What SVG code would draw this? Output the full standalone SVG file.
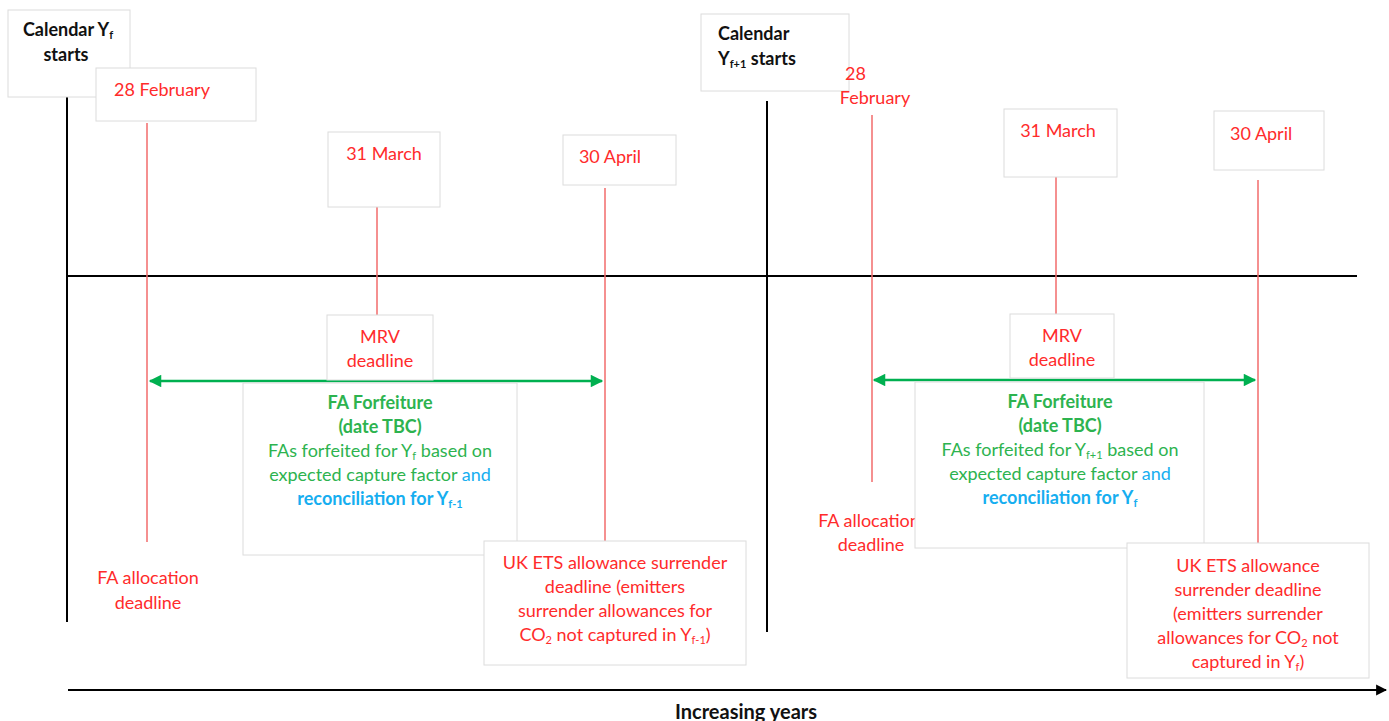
<svg xmlns="http://www.w3.org/2000/svg" width="1389" height="721" viewBox="0 0 1389 721">
<defs>
<style>
text{font-family:Lato,"Liberation Sans",sans-serif;font-size:18px}
.box{fill:#fff;stroke:#dcdcdc;stroke-width:1}
.red{fill:#ff2b2b}
.blk{fill:#111}
.grn{fill:#2db34f}
.blu{fill:#16aef0}
.b{font-weight:bold}
.m{text-anchor:middle}
.rl{stroke:#f26b6b;stroke-width:1.5}
.kl{stroke:#000;stroke-width:2}
.gl{stroke:#00b050;stroke-width:2.5}
.sub{font-size:11px}
</style>
<marker id="ga" viewBox="0 0 10 10" refX="9" refY="5" markerWidth="6" markerHeight="5" orient="auto-start-reverse" markerUnits="strokeWidth"><path d="M0,0 L10,5 L0,10 z" fill="#00b050"/></marker>
<marker id="ka" viewBox="0 0 10 10" refX="9" refY="5" markerWidth="5.5" markerHeight="6" orient="auto" markerUnits="strokeWidth"><path d="M0,0 L10,5 L0,10 z" fill="#000"/></marker>
</defs>
<rect width="1389" height="721" fill="#fff"/>

<g id="connectors">
<line class="kl" x1="67" y1="97" x2="67" y2="622"/>
<line class="kl" x1="767" y1="101" x2="767" y2="632"/>
<line class="kl" x1="67" y1="276" x2="1357" y2="276"/>
<line class="kl" x1="68" y1="690" x2="1386" y2="690" stroke-width="2.5" marker-end="url(#ka)"/>
<line class="rl" x1="147" y1="123" x2="147" y2="542"/>
<line class="rl" x1="377" y1="188" x2="377" y2="315"/>
<line class="rl" x1="605" y1="188" x2="605" y2="543"/>
<line class="rl" x1="872" y1="115" x2="872" y2="482"/>
<line class="rl" x1="1056" y1="170" x2="1056" y2="315"/>
<line class="rl" x1="1258" y1="180" x2="1258" y2="545"/>
<line class="gl" x1="150" y1="381" x2="602" y2="381" marker-start="url(#ga)" marker-end="url(#ga)"/>
<line class="gl" x1="874" y1="380" x2="1255" y2="380" marker-start="url(#ga)" marker-end="url(#ga)"/>
</g>

<g id="cal-yf">
<rect class="box" x="8" y="10" width="122" height="87" stroke="#eee"/>
<text class="blk b m" x="68" y="36">Calendar Y<tspan class="sub" baseline-shift="-3">f</tspan></text>
<text class="blk b m" x="66" y="61">starts</text>
</g>

<g id="feb28-a">
<rect class="box" x="96" y="68" width="160" height="53"/>
<text class="red m" x="162" y="96">28 February</text>
</g>

<g id="mar31-a">
<rect class="box" x="328" y="132" width="112" height="75"/>
<text class="red m" x="384" y="160">31 March</text>
</g>

<g id="apr30-a">
<rect class="box" x="563" y="135" width="113" height="50" stroke="#f0f0f0"/>
<text class="red m" x="610" y="163">30 April</text>
</g>

<g id="mrv-a">
<rect class="box" x="327" y="315" width="106" height="65" stroke="#eee"/>
<text class="red m" x="380" y="343">MRV</text>
<text class="red m" x="380" y="367">deadline</text>
</g>

<g id="fa-alloc-a">
<text class="red m" x="148" y="584">FA allocation</text>
<text class="red m" x="148" y="609">deadline</text>
</g>

<g id="forfeit-a">
<rect class="box" x="243" y="383" width="274" height="172"/>
<text class="grn b m" x="380" y="409">FA Forfeiture</text>
<text class="grn b m" x="380" y="433">(date TBC)</text>
<text class="grn m" x="380" y="457">FAs forfeited for Y<tspan class="sub" baseline-shift="-3">f</tspan> based on</text>
<text class="grn m" x="380" y="481">expected capture factor <tspan class="blu">and</tspan></text>
<text class="blu b m" x="380" y="505">reconciliation for Y<tspan class="sub" baseline-shift="-3">f-1</tspan></text>
</g>

<g id="uk-ets-a">
<rect class="box" x="484" y="541" width="262" height="124"/>
<text class="red m" x="615" y="569">UK ETS allowance surrender</text>
<text class="red m" x="615" y="593">deadline (emitters</text>
<text class="red m" x="615" y="617">surrender allowances for</text>
<text class="red m" x="615" y="641">CO<tspan class="sub" baseline-shift="-3">2</tspan> not captured in Y<tspan class="sub" baseline-shift="-3">f-1</tspan>)</text>
</g>

<g id="cal-yf1">
<rect class="box" x="701" y="14" width="148" height="77"/>
<text class="blk b" x="718" y="40">Calendar</text>
<text class="blk b" x="718" y="65">Y<tspan class="sub" baseline-shift="-3">f+1</tspan> starts</text>
</g>

<g id="feb28-b">
<text class="red" x="845" y="80">28</text>
<text class="red m" x="875" y="104">February</text>
</g>

<g id="mar31-b">
<rect class="box" x="1004" y="109" width="113" height="68" stroke="#f2f2f2"/>
<text class="red m" x="1058" y="137">31 March</text>
</g>

<g id="apr30-b">
<rect class="box" x="1214" y="111" width="110" height="59"/>
<text class="red" x="1230" y="140">30 April</text>
</g>

<g id="mrv-b">
<rect class="box" x="1010" y="314" width="104" height="64" stroke="#eee"/>
<text class="red m" x="1062" y="342">MRV</text>
<text class="red m" x="1062" y="366">deadline</text>
</g>

<g id="fa-alloc-b">
<text class="red m" x="869" y="527">FA allocation</text>
<text class="red m" x="871" y="551">deadline</text>
</g>

<g id="forfeit-b">
<rect class="box" x="915" y="382" width="289" height="166"/>
<text class="grn b m" x="1060" y="408">FA Forfeiture</text>
<text class="grn b m" x="1060" y="432">(date TBC)</text>
<text class="grn m" x="1060" y="456">FAs forfeited for Y<tspan class="sub" baseline-shift="-3">f+1</tspan> based on</text>
<text class="grn m" x="1060" y="480">expected capture factor <tspan class="blu">and</tspan></text>
<text class="blu b m" x="1060" y="504">reconciliation for Y<tspan class="sub" baseline-shift="-3">f</tspan></text>
</g>

<g id="uk-ets-b">
<rect class="box" x="1127" y="543" width="242" height="135"/>
<text class="red m" x="1248" y="572">UK ETS allowance</text>
<text class="red m" x="1248" y="596">surrender deadline</text>
<text class="red m" x="1248" y="620">(emitters surrender</text>
<text class="red m" x="1248" y="644">allowances for CO<tspan class="sub" baseline-shift="-3">2</tspan> not</text>
<text class="red m" x="1248" y="668">captured in Y<tspan class="sub" baseline-shift="-3">f</tspan>)</text>
</g>

<g id="axis-label">
<text class="blk b m" x="746" y="719" style="font-size:20px">Increasing years</text>
</g>
</svg>
